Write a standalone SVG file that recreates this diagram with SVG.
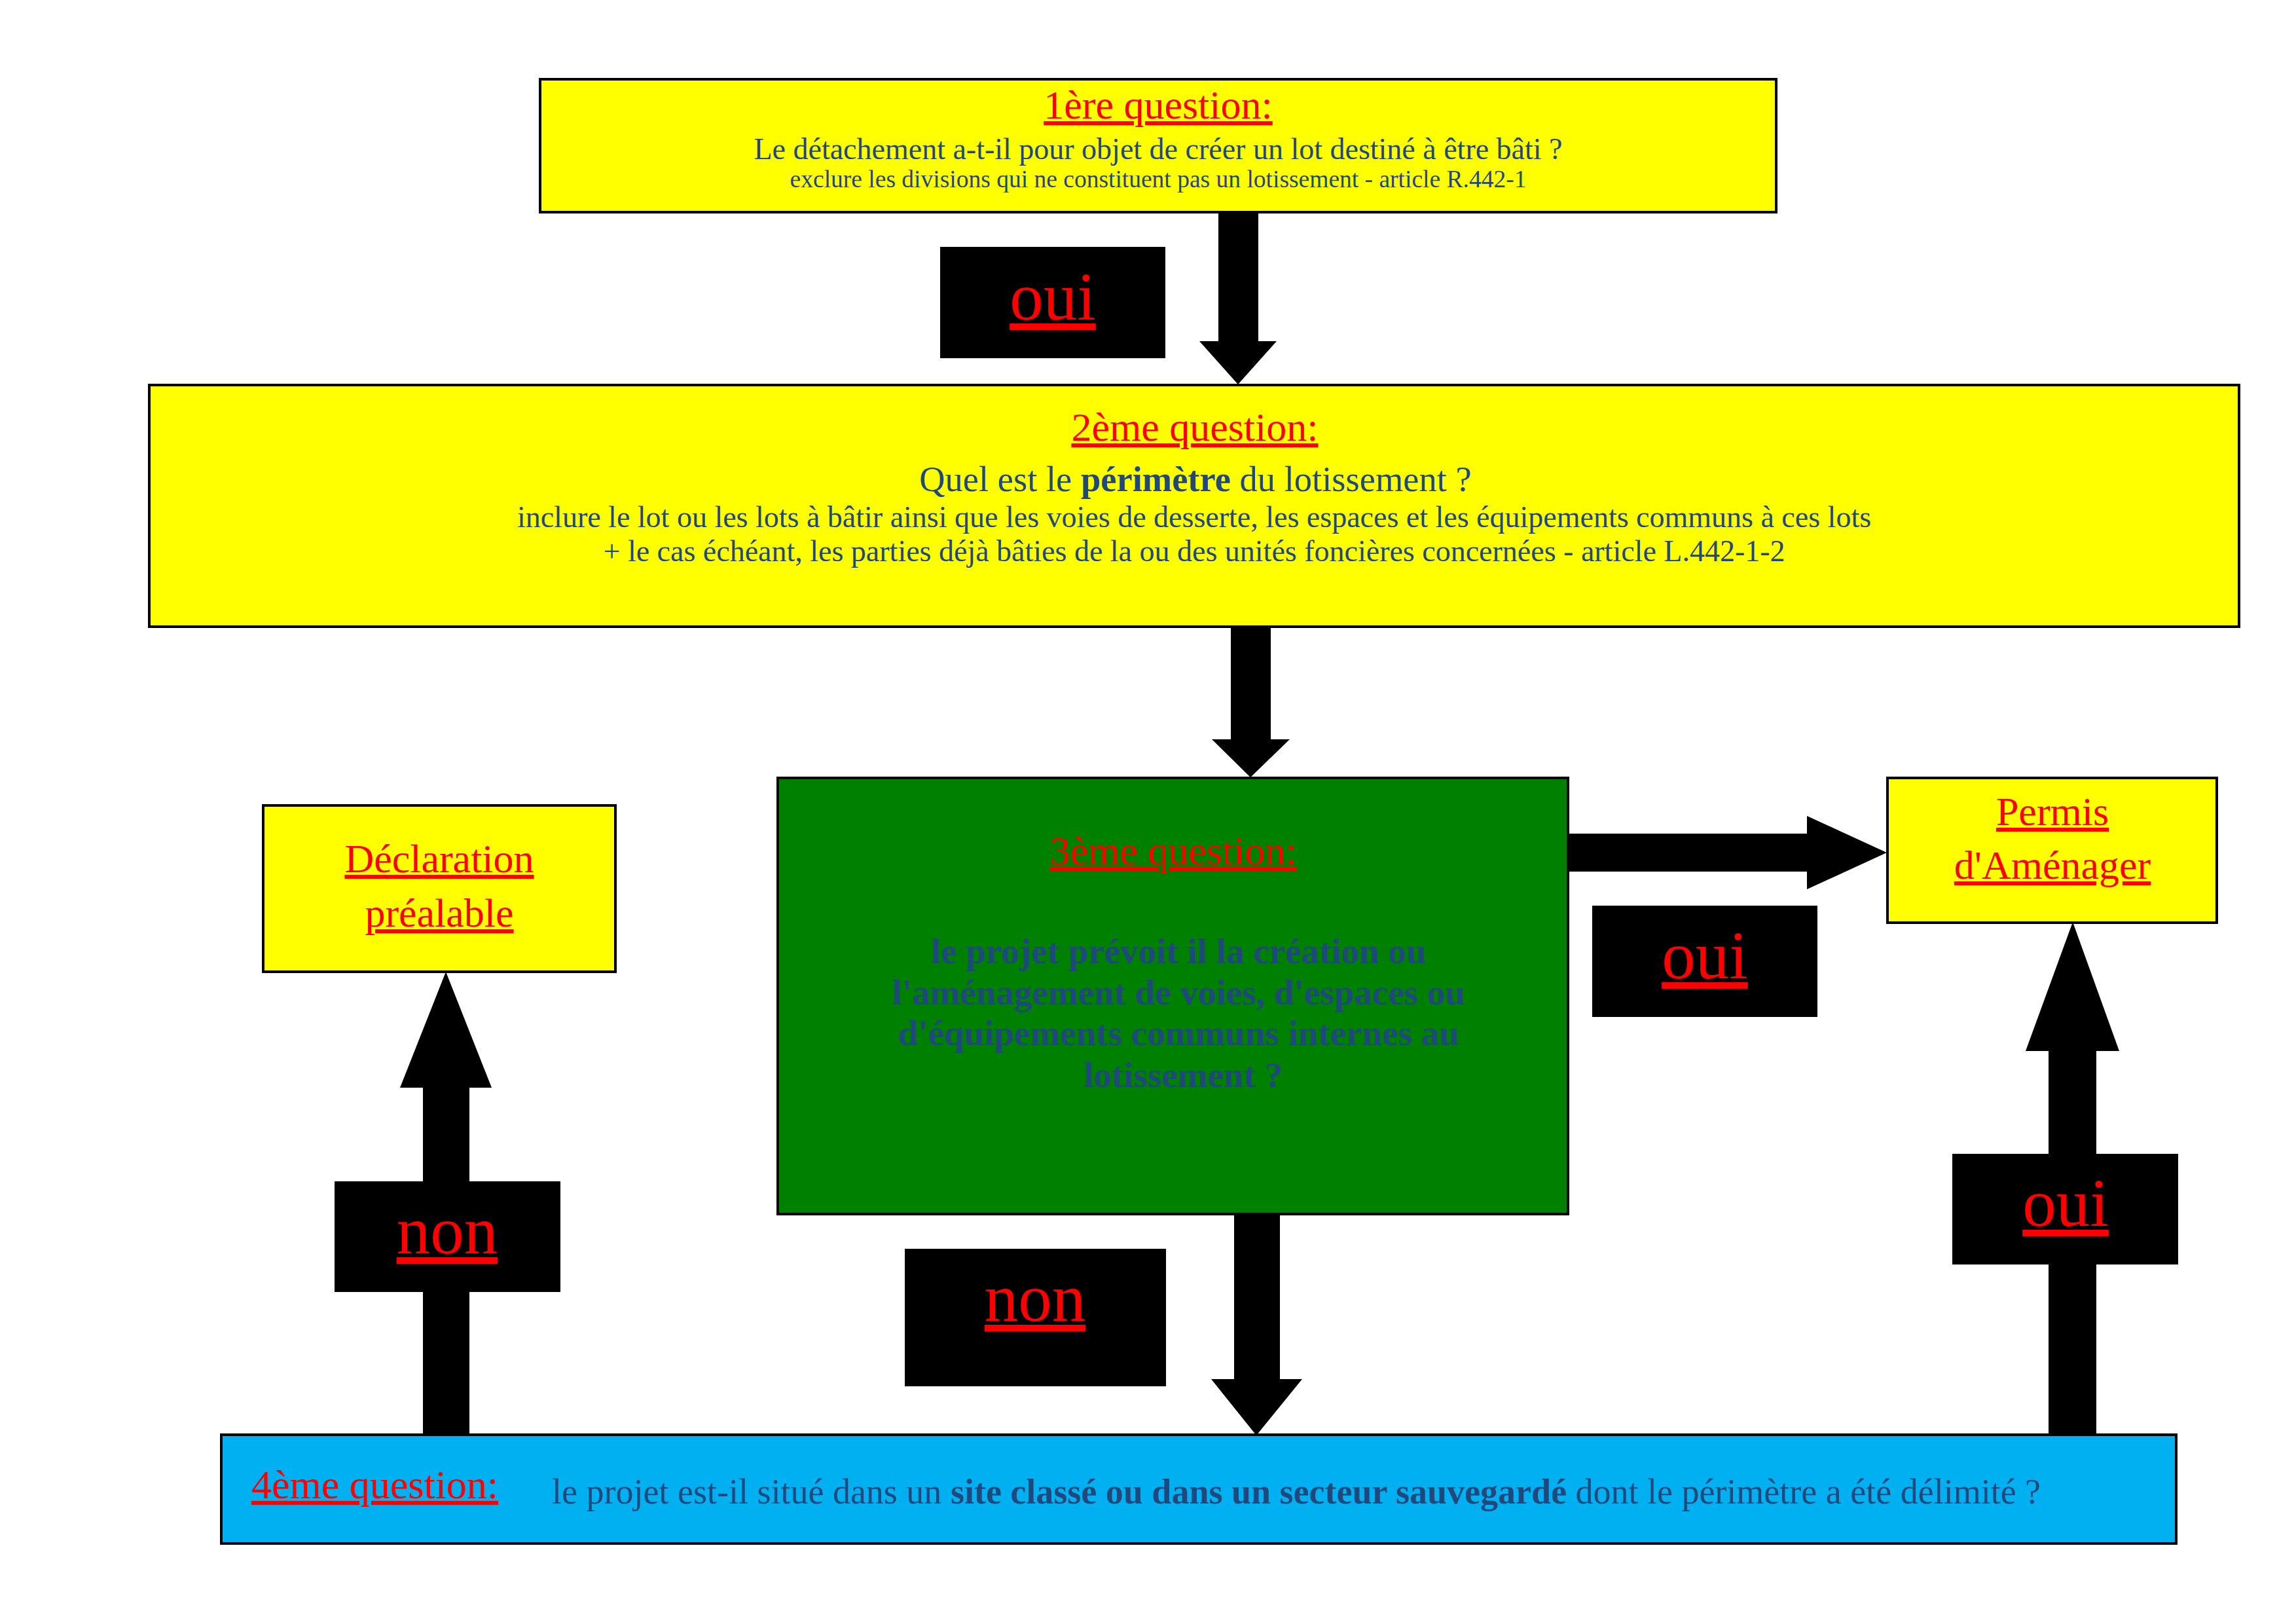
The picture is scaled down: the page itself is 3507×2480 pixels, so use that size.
<svg xmlns="http://www.w3.org/2000/svg" width="3507" height="2480" viewBox="0 0 3507 2480">
<style>
  text { font-family: "Liberation Serif", "Times New Roman", serif; }
  .box { stroke: #000000; stroke-width: 4; }
  .yellow { fill: #FFFF00; }
  .green { fill: #008000; }
  .blue { fill: #00B0F0; }
  .title { fill: #FF0000; text-decoration: underline; font-size: 62px; }
  .body { fill: #1F497D; }
  .b { font-weight: bold; }
  .lbl { fill: #000000; }
  .lbltext { fill: #FF0000; font-size: 103px; text-decoration: underline; text-anchor: middle; }
  .arrow { fill: #000000; }
  .c { text-anchor: middle; }
</style>
<rect width="3507" height="2480" fill="#FFFFFF"/>

<g id="connectors">
  <!-- Q1 -> Q2 -->
  <polygon class="arrow" points="1861,324 1922,324 1922,521 1950,521 1891,587 1832,521 1861,521"/>
  <!-- Q2 -> Q3 -->
  <polygon class="arrow" points="1880,957 1941,957 1941,1129 1970,1129 1910,1187 1851,1129 1880,1129"/>
  <!-- Q3 -> Permis -->
  <polygon class="arrow" points="2395,1273 2760,1273 2760,1246 2882,1302 2760,1358 2760,1331 2395,1331"/>
  <!-- Q3 -> Q4 -->
  <polygon class="arrow" points="1885,1854 1955,1854 1955,2106 1989,2106 1919,2192 1850,2106 1885,2106"/>
  <!-- Q4 -> Declaration -->
  <polygon class="arrow" points="646,2191 646,1661 611,1661 681,1484 751,1661 717,1661 717,2191"/>
  <!-- Q4 -> Permis -->
  <polygon class="arrow" points="3129,2191 3129,1605 3094,1605 3166,1408 3237,1605 3202,1605 3202,2191"/>

  <g id="label-oui-1">
    <rect class="lbl" x="1436" y="377" width="344" height="170"/>
    <text class="lbltext" x="1608" y="488">oui</text>
  </g>
  <g id="label-oui-2">
    <rect class="lbl" x="2432" y="1383" width="344" height="170"/>
    <text class="lbltext" x="2604" y="1494">oui</text>
  </g>
  <g id="label-oui-3">
    <rect class="lbl" x="2982" y="1762" width="345" height="169"/>
    <text class="lbltext" x="3155" y="1872">oui</text>
  </g>
  <g id="label-non-1">
    <rect class="lbl" x="511" y="1804" width="345" height="169"/>
    <text class="lbltext" x="683" y="1914">non</text>
  </g>
  <g id="label-non-2">
    <rect class="lbl" x="1382" y="1907" width="399" height="210"/>
    <text class="lbltext" x="1581" y="2017">non</text>
  </g>
</g>

<g id="q1">
  <rect class="box yellow" x="825" y="121" width="1888" height="203"/>
  <text class="title c" x="1769" y="181">1ère question:</text>
  <text class="body c" x="1769" y="243" font-size="46">Le détachement a-t-il pour objet de créer un lot destiné à être bâti ?</text>
  <text class="body c" x="1769" y="286" font-size="37.5">exclure les divisions qui ne constituent pas un lotissement - article R.442-1</text>
</g>

<g id="q2">
  <rect class="box yellow" x="228" y="588" width="3192" height="369"/>
  <text class="title c" x="1825" y="673">2ème question:</text>
  <text class="body c" x="1826" y="750" font-size="54.5">Quel est le <tspan class="b">périmètre</tspan> du lotissement ?</text>
  <text class="body c" x="1824" y="805" font-size="46">inclure le lot ou les lots à bâtir ainsi que les voies de desserte, les espaces et les équipements communs à ces lots</text>
  <text class="body c" x="1824" y="857" font-size="46">+ le cas échéant, les parties déjà bâties de la ou des unités foncières concernées - article L.442-1-2</text>
</g>

<g id="q3">
  <rect class="box green" x="1188" y="1188" width="1207" height="666"/>
  <text class="title c" x="1792" y="1320">3ème question:</text>
  <text class="body b c" font-size="55">
    <tspan x="1807" y="1471">le projet prévoit il la création ou</tspan>
    <tspan x="1807" y="1534">l'aménagement de voies, d'espaces ou</tspan>
    <tspan x="1807" y="1596">d'équipements communs internes au</tspan>
    <tspan x="1807" y="1660">lotissement ?</tspan>
  </text>
</g>

<g id="permis">
  <rect class="box yellow" x="2883" y="1188" width="503" height="221"/>
  <text class="title c" x="3135" y="1260">Permis</text>
  <text class="title c" x="3135" y="1342">d'Aménager</text>
</g>

<g id="declaration">
  <rect class="box yellow" x="402" y="1230" width="538" height="254"/>
  <text class="title c" x="671" y="1332">Déclaration</text>
  <text class="title c" x="671" y="1415">préalable</text>
</g>

<g id="q4">
  <rect class="box blue" x="338" y="2191" width="2986" height="166"/>
  <text class="title" x="384" y="2288">4ème question:</text>
  <text class="body" x="843" y="2296" font-size="54">le projet est-il situé dans un <tspan class="b">site classé ou dans un secteur sauvegardé</tspan> dont le périmètre a été délimité ?</text>
</g>
</svg>
